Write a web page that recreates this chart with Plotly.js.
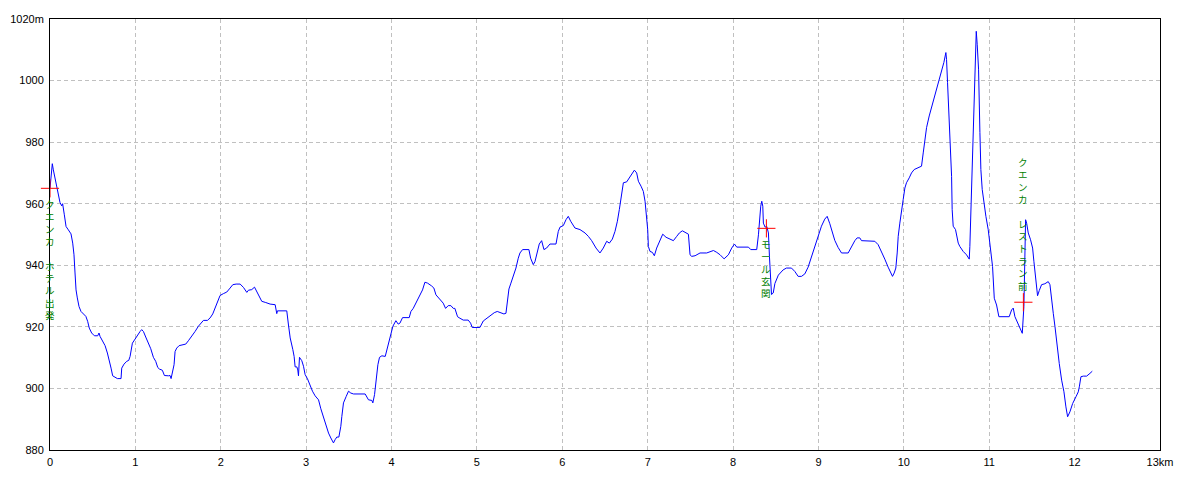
<!DOCTYPE html>
<html>
<head>
<meta charset="utf-8">
<script src="https://cdn.plot.ly/plotly-3.0.1.min.js"></script>
<style>html,body{margin:0;padding:0;background:#fff;}#chart{width:1200px;height:480px;}</style>
</head>
<body>
<div id="chart"></div>
<script>
// Distance (km) along the route
const distanceKm = [
0,0.01,0.027,0.039,0.059,0.078,0.098,0.117,0.137,0.148,0.168,0.188,0.215,0.246,0.266,0.281,0.293,0.305,0.32,0.34,0.363,0.39,0.42,0.441,0.46,0.488,0.52,0.559,0.574,0.586,0.613,0.645,0.672,0.695,0.715,0.734,0.762,0.789,0.832,0.84,0.867,0.898,0.922,0.938,0.965,0.996,
1.027,1.055,1.074,1.094,1.121,1.152,1.18,1.211,1.238,1.262,1.281,1.316,1.34,1.387,1.406,1.418,1.438,1.453,1.465,1.484,1.512,1.551,1.59,1.621,1.66,1.699,1.738,1.777,1.797,1.844,1.875,1.906,1.934,1.961,1.992,
2.031,2.07,2.109,2.141,2.18,2.227,2.266,2.305,2.324,2.363,2.395,2.422,2.453,2.48,2.527,2.578,2.637,2.656,2.664,2.773,2.793,2.813,2.844,2.859,2.871,2.891,2.902,2.91,2.922,2.949,2.969,2.988,
3.016,3.047,3.074,3.105,3.145,3.172,3.203,3.234,3.262,3.289,3.32,3.34,3.359,3.383,3.406,3.418,3.437,3.469,3.496,3.523,3.555,3.691,3.73,3.77,3.781,3.801,3.82,3.84,3.859,3.887,3.926,3.945,3.984,
4.016,4.051,4.078,4.098,4.129,4.207,4.227,4.254,4.293,4.332,4.363,4.391,4.422,4.469,4.496,4.52,4.559,4.605,4.633,4.664,4.695,4.723,4.742,4.773,4.801,4.84,4.898,4.926,4.945,
5.035,5.074,5.113,5.164,5.203,5.238,5.277,5.316,5.34,5.355,5.375,5.398,5.426,5.457,5.484,5.504,5.535,5.609,5.629,5.66,5.68,5.707,5.73,5.758,5.785,5.816,5.855,5.926,5.953,5.973,
6.012,6.043,6.07,6.098,6.148,6.207,6.266,6.305,6.344,6.395,6.441,6.48,6.52,6.551,6.586,6.617,6.645,6.668,6.695,6.715,6.754,6.793,6.82,6.844,6.871,6.891,6.922,6.949,6.969,6.988,
7.0,7.008,7.027,7.055,7.078,7.105,7.145,7.176,7.215,7.262,7.301,7.34,7.371,7.406,7.445,7.477,7.496,7.516,7.555,7.613,7.691,7.77,7.809,7.848,7.895,7.945,7.984,
8.016,8.043,8.18,8.207,8.277,8.297,8.309,8.324,8.336,8.348,8.355,8.375,8.395,8.414,8.426,8.441,8.45,8.47,8.49,8.53,8.569,8.586,8.625,8.684,8.723,8.762,8.801,8.84,8.879,8.918,8.957,8.996,
9.035,9.074,9.102,9.133,9.164,9.191,9.23,9.27,9.348,9.387,9.426,9.453,9.484,9.504,9.602,9.66,9.699,9.738,9.777,9.816,9.844,9.867,9.887,9.906,9.922,9.934,9.953,9.973,9.992,
10.012,10.031,10.063,10.09,10.121,10.168,10.207,10.227,10.246,10.266,10.297,10.324,10.352,10.383,10.41,10.441,10.469,10.492,10.5,10.512,10.531,10.547,10.559,10.566,10.578,10.605,10.637,10.656,10.695,10.734,10.766,10.773,10.785,10.801,10.813,10.824,10.836,10.848,10.859,10.875,10.891,10.902,10.918,10.938,10.961,10.988,
11.016,11.039,11.059,11.086,11.113,11.234,11.262,11.281,11.301,11.328,11.359,11.387,11.406,11.418,11.426,11.438,11.457,11.484,11.508,11.523,11.535,11.547,11.566,11.586,11.613,11.652,11.691,11.711,11.73,11.75,11.77,11.797,11.82,11.848,11.875,11.898,11.918,11.945,11.977,
12.016,12.043,12.055,12.074,12.102,12.141,12.18,12.207
];
// Elevation (m)
const elevationM = [
965,968,973,971,968.3,965.6,962.4,960.4,959.3,960,956.4,952.6,951.5,950.2,947.2,943.4,937.5,932,929.4,926.6,925,924.2,923.4,921.8,919.6,918,917.1,917.1,918,916.9,915.3,913.9,911.5,909.3,906.6,904.1,903.7,903.2,903.2,906.6,907.9,908.8,909.1,910.4,914.7,916.1,
917.4,918.5,919.1,918.5,916.7,914.7,912.9,910.1,908.8,906.8,906.3,905.9,904.2,904.1,904.2,903.2,905.3,907.7,912,913.1,913.9,914.2,914.4,915.5,916.9,918.5,920.2,921.5,922.1,922.1,922.9,924.2,926.3,928.5,930.2,
930.8,931.3,932.6,933.7,933.9,933.9,932.8,931.2,931.9,932.1,932.9,931.5,929.9,928.3,927.9,927.4,927.2,924.3,925.2,925.2,920.6,916.4,912.6,910.4,907,907,906,904.1,910.1,909,907.2,904.5,
903.1,900.7,899.1,897.6,896.3,893.4,890.4,887.7,885.5,883.9,882.3,883.4,884.2,884.2,887.7,890.9,895.3,897.4,899.1,898.5,898.2,898.2,896.3,896.1,895.3,898,903.4,907.7,910.1,910.6,910.4,912.6,916.4,
920.2,922,920.9,921.2,923,923,925,926,928.2,930.1,932,934.5,934.2,933.3,932.6,930.4,929,927.7,926,926.9,926.9,926,926,923.3,922.8,922.2,922.2,921.2,919.8,
919.8,921.9,922.8,923.9,924.6,925,924.6,924.2,924.4,927.7,932.3,934.2,936.4,939.1,942.3,944,945.1,945.1,942.3,940.2,941.2,944.5,946.9,948,945.1,945.6,946.9,946.9,951,952.4,
952.9,954.8,955.9,954.3,952.1,951.6,950.5,949.4,948,945.6,944,945.6,947.8,947.2,948.5,951,954.3,958.1,963,966.8,967.1,968.9,970.2,970.9,970,967.3,965.7,964,960.8,955.9,
951.6,946.1,944.5,944.2,943.1,945.6,948.3,950.1,949.1,948.5,948,949.4,950.5,951.2,950.7,950.1,943.4,942.9,943.1,944,944,944.8,944.2,943.4,942.1,943.4,945.6,
946.9,945.9,945.9,945.1,945.1,949.9,955.9,959.2,960.8,959.2,953.7,952.4,952.6,950.5,942.9,933,930.5,931,934.1,936.8,938.2,938.5,939.1,939.1,938,936.4,936.4,937.2,939.4,942.7,945.6,948.9,
952.7,955,955.9,953.5,950.5,948.1,945.8,944,944,946.1,948,948.9,948.9,948,948,947.8,946.7,944.5,942,939.4,937.5,936.4,937.5,939.1,944,949.4,953.7,957,961.3,
965.1,966.8,968.4,970,971.1,971.7,972.2,976.5,980.9,984.7,988.5,991.2,993.9,997.2,999.9,1003.7,1005.9,1009.1,1006.9,999.3,988.5,978.7,968.9,958.1,952.7,951.6,947.2,946.1,944.5,943.4,942,946.1,958.1,968.9,979.8,989.6,1003.7,1016,1011.8,1003.7,983.1,971.1,964.6,960.3,955.9,951.6,
944,939.6,929.3,927.1,923.3,923.3,925.5,926.1,923.3,921.7,920.1,917.9,926.6,944,954.8,953.7,950.5,948.3,945.6,941.3,937.5,934.2,930.1,931.8,933.7,934,934.7,933.7,929.9,924.4,920.1,912.5,908.1,902.7,898.9,894,890.8,892.4,895.1,
897.3,898.9,900.5,903.8,904,904,904.9,905.6
];

// Waypoints
const waypointNames = ["クエンカ　ホテル出発", "モール玄関", "クエンカ　レストラン前"];
const waypointKm = [0, 8.39, 11.40];
const waypointM = [965, 952, 928];
const waypointSide = ["below", "below", "above"];

// Tick labels
const xTickVals = [0,1,2,3,4,5,6,7,8,9,10,11,12,13];
const xTickText = ["0","1","2","3","4","5","6","7","8","9","10","11","12","13km"];
const yTickVals = [880,900,920,940,960,980,1000,1020];
const yTickText = ["880","900","920","940","960","980","1000","1020m"];

const profile = {
  x: distanceKm, y: elevationM, type: "scatter", mode: "lines",
  line: {color: "#0000ff", width: 1}, hoverinfo: "x+y", showlegend: false
};
const markers = {
  x: waypointKm, y: waypointM, type: "scatter", mode: "markers",
  marker: {symbol: "cross-thin", size: 13, color: "#ff0000", line: {color: "#ff0000", width: 1}},
  cliponaxis: false, showlegend: false, text: waypointNames, hoverinfo: "text"
};

const annotations = waypointNames.map((name, i) => ({
  x: waypointKm[i], y: waypointM[i], xref: "x", yref: "y",
  text: Array.from(name).join("<br>"),
  showarrow: false, xanchor: "center",
  yanchor: waypointSide[i] === "below" ? "top" : "bottom",
  yshift: waypointSide[i] === "below" ? -8 : 8,
  font: {family: "Noto Sans CJK JP", size: 9.5, color: "#008000"},
  borderpad: 0
}));

const tickFont = {family: "Liberation Sans, Arial, sans-serif", size: 11, color: "#000"};
const layout = {
  width: 1200, height: 480,
  margin: {l: 50, r: 40, t: 19, b: 30, pad: 0},
  paper_bgcolor: "#ffffff", plot_bgcolor: "#ffffff",
  showlegend: false,
  xaxis: {
    range: [0, 13], tickmode: "array", tickvals: xTickVals, ticktext: xTickText,
    showgrid: true, gridcolor: "#c0c0c0", gridwidth: 1, griddash: "4px,3px",
    zeroline: false, showline: true, mirror: true, linecolor: "#000", linewidth: 1,
    ticks: "", ticklabelstandoff: 2, tickfont: tickFont, fixedrange: true
  },
  yaxis: {
    range: [880, 1020], tickmode: "array", tickvals: yTickVals, ticktext: yTickText,
    showgrid: true, gridcolor: "#c0c0c0", gridwidth: 1, griddash: "4px,3px",
    zeroline: false, showline: true, mirror: true, linecolor: "#000", linewidth: 1,
    ticks: "", ticklabelstandoff: 3, tickfont: tickFont, fixedrange: true
  },
  annotations: annotations
};

Plotly.newPlot("chart", [profile, markers], layout, {displayModeBar: false, staticPlot: true});
</script>
</body>
</html>
